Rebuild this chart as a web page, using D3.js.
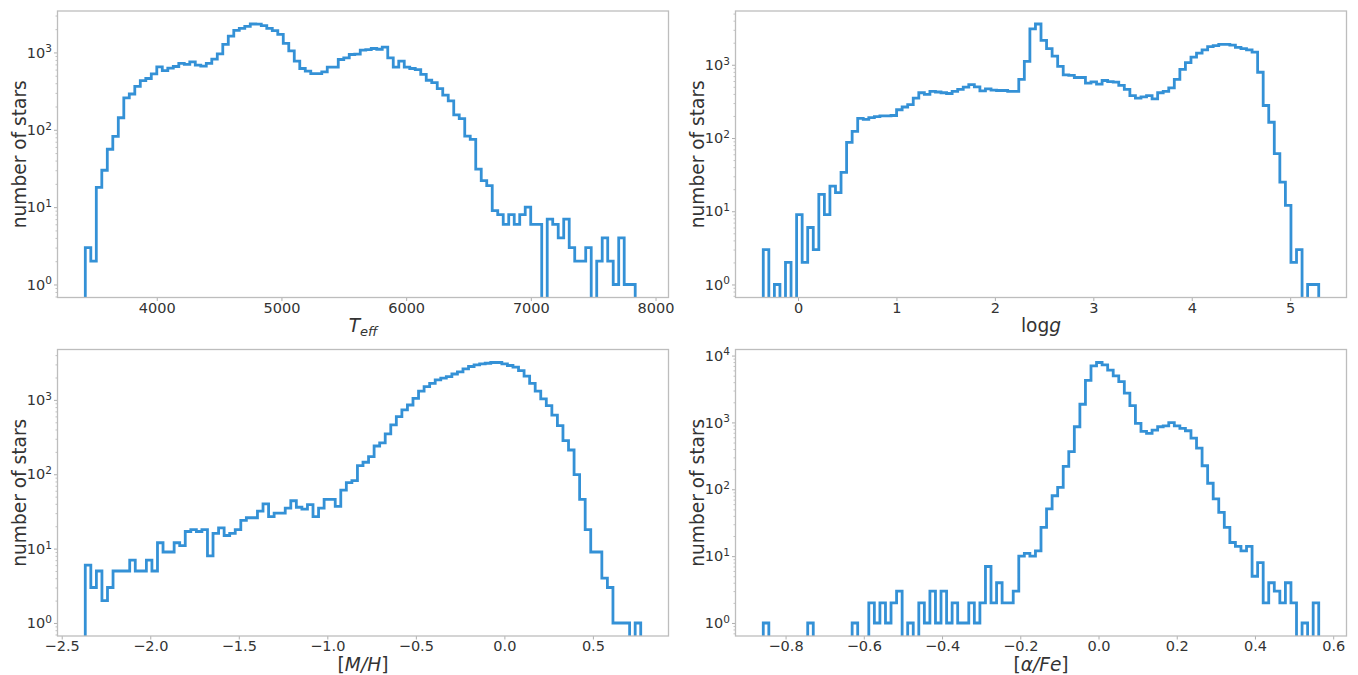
<!DOCTYPE html>
<html>
<head>
<meta charset="utf-8">
<script src="https://cdn.jsdelivr.net/npm/d3@7"></script>
<style>
  body { margin: 0; background: #fff; }
  svg { display: block; }
  text { font-family: "DejaVu Sans", sans-serif; }
</style>
</head>
<body>
<svg id="chart" width="1358" height="675"></svg>
<script>
// Star counts per bin (100 equal-width bins each), log-scaled y axis.
const teffCounts = [
  3, 2, 18, 30, 56, 82, 143, 258, 290, 365,
  433, 460, 528, 650, 583, 626, 658, 720, 700, 756,
  684, 665, 720, 820, 960, 1270, 1630, 1930, 2050, 2170,
  2330, 2320, 2220, 2050, 1910, 1710, 1310, 1050, 770, 620,
  573, 533, 533, 560, 645, 645, 810, 850, 940, 950,
  1070, 1090, 1125, 1100, 1170, 850, 645, 770, 645, 620,
  600, 520, 437, 407, 340, 280, 236, 156, 139, 83,
  75, 31, 22, 19, 9, 8, 6, 8, 6, 8,
  10, 6, 6, 0, 7, 6, 4, 7, 3, 2,
  2, 3, 0, 2, 4, 2, 1, 4, 1, 1
];
const teffRange = [3427, 7837];
const teffDomain = [3204, 8104];
const teffTicks = [4000, 5000, 6000, 7000, 8000];

const loggCounts = [
  3, 0, 1, 0, 2, 0, 9, 2, 6, 3,
  17, 9, 22, 18, 34, 87, 123, 185, 180, 190,
  196, 200, 200, 203, 243, 265, 285, 350, 415, 395,
  432, 425, 415, 405, 432, 460, 495, 535, 500, 440,
  470, 450, 445, 445, 432, 432, 630, 1110, 3100, 3600,
  2150, 1660, 1310, 950, 730, 716, 670, 670, 560, 585,
  545, 610, 590, 580, 523, 460, 380, 350, 365, 380,
  343, 415, 432, 485, 630, 865, 1070, 1270, 1440, 1600,
  1770, 1820, 1900, 1900, 1850, 1730, 1660, 1600, 1490, 790,
  278, 164, 61, 25, 12, 2, 3, 0, 1, 1
];
const loggRange = [-0.353, 5.29];
const loggTicks = [0, 1, 2, 3, 4, 5];

const mhCounts = [
  6, 3, 5, 2, 3, 5, 5, 5, 7, 5,
  5, 7, 5, 12, 9, 9, 12, 11, 17, 18,
  17, 18, 8, 16, 19, 15, 16, 18, 24, 26,
  26, 32, 40, 27, 30, 30, 35, 44, 36, 34,
  39, 27, 35, 46, 46, 37, 61, 77, 82, 131,
  145, 173, 240, 265, 350, 460, 597, 733, 853, 1050,
  1310, 1510, 1670, 1860, 1960, 2050, 2230, 2380, 2610, 2810,
  2960, 3050, 3110, 3180, 3180, 3050, 2900, 2750, 2480, 2090,
  1670, 1310, 1030, 835, 625, 452, 283, 212, 99, 46,
  18, 9, 9, 4, 3, 1, 1, 1, 0, 1
];
const mhRange = [-2.367, 0.770];
const mhTicks = [-2.5, -2.0, -1.5, -1.0, -0.5, 0.0, 0.5];

const afeCounts = [
  1, 0, 0, 0, 0, 0, 0, 0, 1, 0,
  0, 0, 0, 0, 0, 0, 1, 0, 0, 2,
  1, 2, 1, 2, 3, 0, 1, 0, 2, 1,
  3, 1, 3, 1, 2, 1, 1, 2, 1, 2,
  7, 2, 4, 2, 2, 3, 10, 11, 10, 12,
  27, 51, 80, 107, 220, 365, 862, 1870, 4270, 7000,
  7870, 7250, 6040, 4970, 4090, 2740, 1780, 966, 734, 685,
  768, 862, 890, 990, 890, 812, 750, 584, 414, 225,
  123, 72, 45, 27, 16, 14, 12, 14, 5, 8,
  2, 4, 3, 2, 4, 2, 0, 1, 0, 2
];
const afeRange = [-0.857, 0.563];
const afeTicks = [-0.8, -0.6, -0.4, -0.2, 0.0, 0.2, 0.4, 0.6];

const yTitle = "number of stars";

// Axis titles as runs of text: roman / italic / subscript
const teffLabel = [{ t: "T", it: true }, { t: "eff", it: true, sub: true }];
const loggLabel = [{ t: "log" }, { t: "g", it: true }];
const mhLabel = [{ t: "[" }, { t: "M/H", it: true }, { t: "]" }];
const afeLabel = [{ t: "[" }, { t: "α/Fe", it: true }, { t: "]" }];

const panels = [
  { counts: teffCounts, range: teffRange, domain: teffDomain, ticks: teffTicks, fmt: d3.format("d"), label: teffLabel, col: 0, row: 0 },
  { counts: loggCounts, range: loggRange, ticks: loggTicks, fmt: d3.format("d"), label: loggLabel, col: 1, row: 0 },
  { counts: mhCounts, range: mhRange, ticks: mhTicks, fmt: d3.format(".1f"), label: mhLabel, col: 0, row: 1 },
  { counts: afeCounts, range: afeRange, ticks: afeTicks, fmt: d3.format(".1f"), label: afeLabel, col: 1, row: 1 }
];

// Layout of the 2x2 grid
const colX = [57.5, 735.5];
const rowY = [11, 349.5];
const plotW = 611;
const plotH = 286.5;
const lineColor = "#3491d6";
const textColor = "#333";
const spineColor = "#bdbdbd";

const svg = d3.select("#chart");

panels.forEach((p, idx) => {
  const x0 = colX[p.col], y0 = rowY[p.row];
  const g = svg.append("g").attr("transform", `translate(${x0},${y0})`);

  // x domain: given explicitly, or the bin range padded by 5% on each side
  const span = p.range[1] - p.range[0];
  const x = d3.scaleLinear()
    .domain(p.domain || [p.range[0] - 0.05 * span, p.range[1] + 0.05 * span])
    .range([0, plotW]);

  // y domain: log range of positive counts, padded by 5% in log space
  const pos = p.counts.filter(c => c > 0);
  const lmin = Math.log10(d3.min(pos)), lmax = Math.log10(d3.max(pos));
  const lspan = lmax - lmin;
  const y = d3.scaleLog()
    .domain([Math.pow(10, lmin - 0.05 * lspan), Math.pow(10, lmax + 0.05 * lspan)])
    .range([plotH, 0]);

  const clipId = "clip" + idx;
  g.append("clipPath").attr("id", clipId)
    .append("rect").attr("width", plotW).attr("height", plotH);

  // Step outline of the histogram; empty bins drop below the frame
  const n = p.counts.length;
  const bw = span / n;
  const floorY = plotH + 20;
  const yv = c => (c > 0 ? y(c) : floorY);
  const pts = [[x(p.range[0]), floorY]];
  p.counts.forEach((c, i) => {
    pts.push([x(p.range[0] + i * bw), yv(c)]);
    pts.push([x(p.range[0] + (i + 1) * bw), yv(c)]);
  });
  pts.push([x(p.range[1]), floorY]);

  g.append("path")
    .attr("clip-path", `url(#${clipId})`)
    .attr("d", d3.line()(pts))
    .attr("fill", "none")
    .attr("stroke", lineColor)
    .attr("stroke-width", 2.8)
    .attr("stroke-linejoin", "miter");

  // y axis: major ticks at powers of ten, minor ticks in between
  const [dlo, dhi] = y.domain();
  const majors = [], minors = [];
  for (let e = Math.floor(Math.log10(dlo)); e <= Math.ceil(Math.log10(dhi)); e++) {
    for (let k = 1; k <= 9; k++) {
      const v = k * Math.pow(10, e);
      if (v < dlo || v > dhi) continue;
      (k === 1 ? majors : minors).push(v);
    }
  }
  const yMinor = g.append("g").call(d3.axisLeft(y).tickValues(minors).tickSize(2).tickFormat(""));
  yMinor.select(".domain").remove();
  yMinor.selectAll("line").attr("stroke", "#999").attr("stroke-width", 0.6);

  const yAxis = g.append("g").call(d3.axisLeft(y).tickValues(majors).tickSize(3.5).tickPadding(2));
  yAxis.select(".domain").remove();
  yAxis.selectAll("line").attr("stroke", "#999").attr("stroke-width", 0.8);
  yAxis.selectAll(".tick text").each(function (d) {
    const t = d3.select(this).text(null)
      .attr("font-size", 14.5).attr("fill", textColor)
      .attr("font-family", "DejaVu Sans, sans-serif");
    t.append("tspan").text("10");
    t.append("tspan").attr("dy", "-0.5em").attr("font-size", 10.5)
      .text(Math.round(Math.log10(d)));
  });

  // x axis
  const xAxis = g.append("g").attr("transform", `translate(0,${plotH})`)
    .call(d3.axisBottom(x).tickValues(p.ticks).tickFormat(p.fmt).tickSize(3.5).tickPadding(1.5));
  xAxis.select(".domain").remove();
  xAxis.selectAll("line").attr("stroke", "#999").attr("stroke-width", 0.8);
  xAxis.selectAll("text").attr("font-size", 14.5).attr("fill", textColor)
    .attr("font-family", "DejaVu Sans, sans-serif");

  // x title
  const xt = g.append("text")
    .attr("x", plotW / 2).attr("y", plotH + 34.5)
    .attr("text-anchor", "middle")
    .attr("font-size", 18.6).attr("fill", textColor);
  p.label.forEach(part => {
    const s = xt.append("tspan").text(part.t);
    if (part.it) s.attr("font-style", "italic");
    if (part.sub) s.attr("font-size", 13).attr("dy", 4);
  });

  // frame
  g.append("rect").attr("width", plotW).attr("height", plotH)
    .attr("fill", "none").attr("stroke", spineColor).attr("stroke-width", 1.3);

  // y title
  g.append("text")
    .attr("transform", `translate(${-31.5},${plotH / 2}) rotate(-90)`)
    .attr("text-anchor", "middle")
    .attr("font-size", 18.6).attr("fill", textColor)
    .text(yTitle);
});
</script>
</body>
</html>
